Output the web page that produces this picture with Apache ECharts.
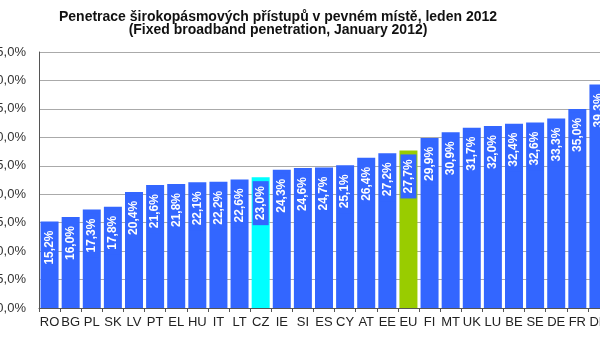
<!DOCTYPE html>
<html><head><meta charset="utf-8">
<script src="https://cdn.jsdelivr.net/npm/echarts@6/dist/echarts.min.js"></script>
<style>html,body{margin:0;padding:0;overflow:hidden;background:#fff;width:600px;height:350px}#c{width:620px;height:350px;position:absolute;left:0;top:0}</style>
</head><body><div id="c"></div>
<script>
const categories = ['RO','BG','PL','SK','LV','PT','EL','HU','IT','LT','CZ','IE','SI','ES','CY','AT','EE','EU','FI','MT','UK','LU','BE','SE','DE','FR','DK'];
const values = [15.2,16.0,17.3,17.8,20.4,21.6,21.8,22.1,22.2,22.6,23.0,24.3,24.6,24.7,25.1,26.4,27.2,27.7,29.9,30.9,31.7,32.0,32.4,32.6,33.3,35.0,39.3];
const highlight = {CZ:'#00FFFF', EU:'#99CC00'};
const titleText = 'Penetrace širokopásmových přístupů v pevném místě, leden 2012\n(Fixed broadband penetration, January 2012)';
const BLUE = '#3366FF';
const fmt = v => v.toFixed(1).replace('.', ',') + '%';
const chart = echarts.init(document.getElementById('c'));
chart.setOption({
  animation: false,
  title: {
    text: titleText, left: 273, top: 6, textAlign: 'center',
    textStyle: {fontFamily: 'Liberation Sans', fontSize: 14, fontWeight: 'bold', color: '#111', lineHeight: 13}
  },
  grid: {left: 39, top: 52, bottom: 42, right: 11, containLabel: false, outerBoundsMode: 'none'},
  xAxis: {
    type: 'category', data: categories,
    axisLine: {lineStyle: {color: '#555', width: 1}},
    axisTick: {show: true, length: 4, lineStyle: {color: '#555'}},
    axisLabel: {interval: 0, margin: 8, color: '#222', fontFamily: 'Liberation Sans', fontSize: 13}
  },
  yAxis: {
    type: 'value', min: 0, max: 45, interval: 5,
    axisLine: {show: true, lineStyle: {color: '#555'}},
    axisTick: {show: false},
    splitLine: {lineStyle: {color: '#aaa', width: 1}},
    axisLabel: {margin: 13, color: '#333', fontFamily: 'Liberation Sans', fontSize: 13, formatter: v => fmt(v)}
  },
  series: [{
    type: 'bar', barWidth: 18,
    data: values.map((v, i) => ({value: v, itemStyle: {color: highlight[categories[i]] || BLUE}})),
    label: {
      show: true, position: 'insideTop', distance: 4, rotate: 90,
      align: 'right', verticalAlign: 'middle',
      color: '#fff', fontFamily: 'Liberation Sans', fontWeight: 'bold', fontSize: 12,
      backgroundColor: BLUE, padding: [2, 5, 2, 5],
      formatter: p => fmt(p.value)
    }
  }]
});
</script></body></html>
